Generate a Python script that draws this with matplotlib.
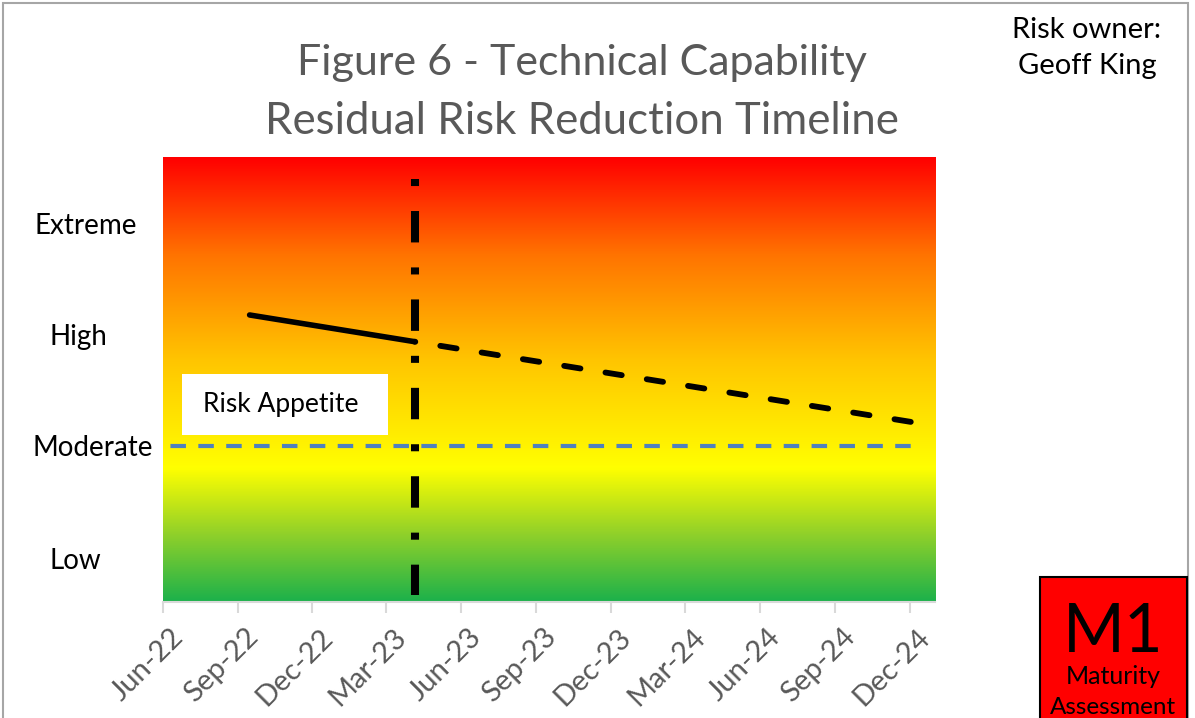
import numpy as np
import matplotlib.pyplot as plt
import matplotlib.dates as mdates
from matplotlib.colors import LinearSegmentedColormap
from matplotlib.patches import Rectangle
from matplotlib.transforms import blended_transform_factory, ScaledTranslation
from datetime import date

plt.rcParams['font.family'] = ['Lato', 'DejaVu Sans']

# risk score scale (0-20), quarterly axis
x_start = date(2022, 6, 1)
x_end = date(2025, 1, 1)
quarters = [date(2022 + (5 + 3 * i) // 12, (5 + 3 * i) % 12 + 1, 1) for i in range(11)]

risk_levels = ['Extreme', 'High', 'Moderate', 'Low']
level_scores = [16.9, 11.9, 6.9, 1.85]
level_x_px = [86, 78, 93, 75]

actual_dates = [date(2022, 9, 15), date(2023, 4, 5)]
actual_scores = [12.9, 11.7]
planned_dates = [date(2023, 4, 5), date(2024, 12, 10)]
planned_scores = [11.7, 8.05]

appetite_dates = [date(2022, 6, 1), date(2024, 12, 4)]
appetite_scores = [7, 7]

today = date(2023, 4, 5)
today_span = [19.0, 0.3]

W, H = 1195, 718
fig = plt.figure(figsize=(W / 100, H / 100), dpi=100)
ax = fig.add_axes([163 / W, 1 - 602 / H, (935 - 163) / W, (602 - 157) / H])

# heat background: red -> orange -> yellow -> green
heat = LinearSegmentedColormap.from_list('heat', [
    (0.0, '#ff0000'), (0.22, '#ff7400'), (0.46, '#ffc600'),
    (0.70, '#ffff00'), (0.85, '#8fd02a'), (1.0, '#1cb14b')])
grad = np.linspace(0, 1, 256).reshape(-1, 1)
ax.imshow(grad, cmap=heat, extent=[0, 1, 0, 1], transform=ax.transAxes,
          aspect='auto', origin='upper', zorder=0)

ax.set_xlim(mdates.date2num(x_start), mdates.date2num(x_end))
ax.set_ylim(0, 20)

ax.plot(appetite_dates, appetite_scores, color='#4F81BD', lw=3.0,
        linestyle=(4.9, (3.72, 2.97)), solid_capstyle='butt', dash_capstyle='butt', zorder=2)

ax.plot(actual_dates, actual_scores, color='black', lw=4.0,
        solid_capstyle='round', zorder=3)
ax.plot(planned_dates, planned_scores, color='black', lw=4.2,
        linestyle=(2.71, (2.83, 4.34)), dash_capstyle='round', zorder=3)

ax.plot([today, today], today_span, color='black', lw=5.8,
        linestyle=(0, (0.875, 3.1, 3.9, 3.1)), dash_capstyle='butt', zorder=4)

for s in ['top', 'left', 'right']:
    ax.spines[s].set_visible(False)
ax.spines['bottom'].set_color('#d9d9d9')
ax.spines['bottom'].set_linewidth(1.5)
ax.set_yticks([])
ax.set_xticks(mdates.date2num(quarters))
ax.xaxis.set_major_formatter(mdates.DateFormatter('%b-%y'))
ax.tick_params(axis='x', length=8, width=1.5, color='#d9d9d9',
               labelcolor='#595959', labelsize=21, pad=10)
for lbl in ax.get_xticklabels():
    lbl.set_rotation(45)
    lbl.set_ha('right')
    lbl.set_va('center')
    lbl.set_rotation_mode('anchor')
    lbl.set_transform(lbl.get_transform() + ScaledTranslation(16 / 100, -6 / 100, fig.dpi_scale_trans))

# risk level labels down the left side
lvl_tf = blended_transform_factory(fig.transFigure, ax.transData)
for name, score, xp in zip(risk_levels, level_scores, level_x_px):
    ax.text(xp / W, score, name, transform=lvl_tf, ha='center', va='center',
            fontsize=20, color='black', clip_on=False)

fig.patches.append(Rectangle((182 / W, 1 - 435 / H), 206 / W, 61 / H,
                             transform=fig.transFigure, fc='white', ec='none', zorder=5))
fig.text(281 / W, 1 - 404 / H, 'Risk Appetite', ha='center', va='center',
         fontsize=19, color='black', zorder=6)

fig.text(582 / W, 1 - 63 / H, 'Figure 6 - Technical Capability', ha='center', va='center',
         fontsize=31, color='#595959')
fig.text(582 / W, 1 - 121 / H, 'Residual Risk Reduction Timeline', ha='center', va='center',
         fontsize=31.5, color='#595959')

fig.text(1087 / W, 1 - 30 / H, 'Risk owner:', ha='center', va='center', fontsize=21)
fig.text(1087 / W, 1 - 66 / H, 'Geoff King', ha='center', va='center', fontsize=21)

# chart border
fig.patches.append(Rectangle((3 / W, -0.05), 1185 / W, 1.05 - 3 / H, transform=fig.transFigure,
                             fc='none', ec='#a6a6a6', lw=1.5))

# maturity box
fig.patches.append(Rectangle((1040 / W, -0.05), 147 / W, 0.05 + 1 - 577 / H,
                             transform=fig.transFigure, fc='#ff0000', ec='black', lw=1.5))
fig.text(1113 / W, 1 - 633 / H, 'M1', ha='center', va='center', fontsize=48)
fig.text(1113 / W, 1 - 676 / H, 'Maturity', ha='center', va='center', fontsize=18)
fig.text(1113 / W, 1 - 708 / H, 'Assessment', ha='center', va='center', fontsize=17.5)

fig.savefig('out.png', dpi=100)
